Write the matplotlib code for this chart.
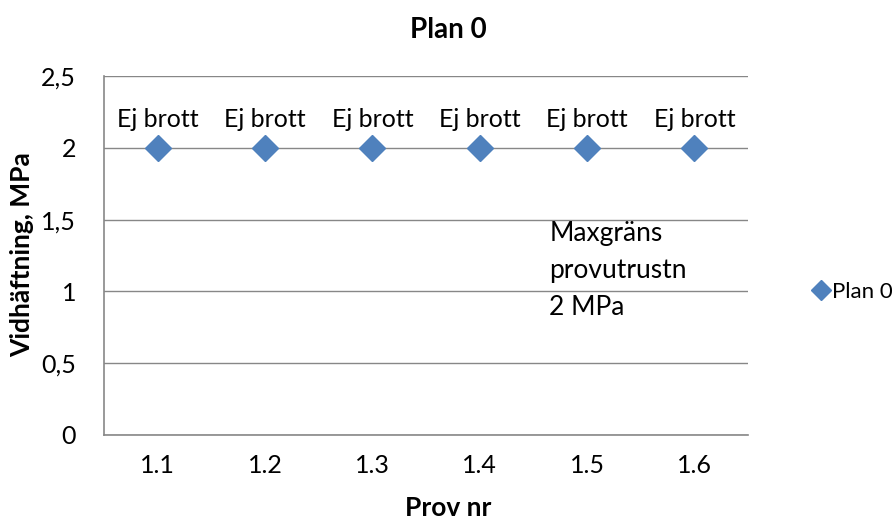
import matplotlib.pyplot as plt
from matplotlib.lines import Line2D

plt.rcParams["font.family"] = ["Lato", "DejaVu Sans"]

# Prov nr and measured adhesion (all capped at test rig max)
prov = ["1.1", "1.2", "1.3", "1.4", "1.5", "1.6"]
vidhaftning = [2, 2, 2, 2, 2, 2]
etiketter = ["Ej brott"] * 6

blue = "#4F81BD"
grid_gray = "#878787"
fs = 18

fig = plt.figure(figsize=(8.96, 5.22), dpi=100)
ax = fig.add_axes([104 / 896, 1 - 435 / 522, 644 / 896, 359 / 522])

x = list(range(len(prov)))
ax.plot(x, vidhaftning, linestyle="none", marker="D", markersize=13,
        color=blue, zorder=3)

for xi, yi, txt in zip(x, vidhaftning, etiketter):
    ax.annotate(txt, (xi, yi), xytext=(0, 15), textcoords="offset points",
                ha="center", va="baseline", fontsize=fs)

ax.text(3.65, 1.49, "Maxgräns\nprovutrustn\n2 MPa", ha="left", va="top",
        fontsize=fs + 1, linespacing=1.6)

ax.set_xlim(-0.5, len(prov) - 0.5)
ax.set_ylim(0, 2.5)
ax.set_yticks([0, 0.5, 1, 1.5, 2, 2.5])
ax.set_yticklabels(["0", "0,5", "1", "1,5", "2", "2,5"])
ax.set_xticks(x)
ax.set_xticklabels(prov)
ax.tick_params(length=0, labelsize=fs)
ax.tick_params(axis="x", pad=14)
ax.tick_params(axis="y", pad=20)

ax.grid(axis="y", color=grid_gray, linewidth=1)
ax.set_axisbelow(True)
for side in ["top", "right"]:
    ax.spines[side].set_visible(False)
for side in ["left", "bottom"]:
    ax.spines[side].set_color(grid_gray)
    ax.spines[side].set_linewidth(1.2)

fig.text(0.5, 1 - 30 / 522, "Plan 0", ha="center", va="center",
         fontsize=fs + 2, fontweight="bold")
fig.text(0.5, 1 - 508 / 522, "Prov nr", ha="center", va="center",
         fontsize=fs + 1, fontweight="bold")
fig.text(22 / 896, 1 - 255 / 522, "Vidhäftning, MPa", ha="center",
         va="center", rotation=90, fontsize=fs + 1, fontweight="bold")

handle = Line2D([], [], linestyle="none", marker="D", markersize=10, color=blue)
fig.legend([handle], ["Plan 0"], loc="center left",
           bbox_to_anchor=(814 / 896, 1 - 292 / 522), frameon=False,
           fontsize=16, handlelength=0.6, handletextpad=0.2, borderpad=0,
           borderaxespad=0)

fig.savefig("out.png", dpi=100)
